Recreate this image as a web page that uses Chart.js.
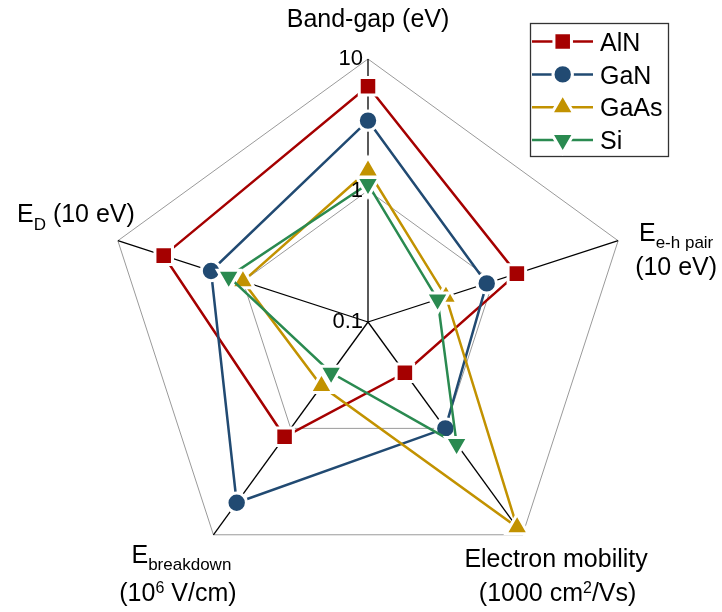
<!DOCTYPE html>
<html>
<head>
<meta charset="utf-8">
<title>Material properties radar</title>
<script src="https://cdn.jsdelivr.net/npm/chart.js@4.4.1/dist/chart.umd.min.js"></script>
<style>
  html, body { margin: 0; padding: 0; background: #ffffff; }
  #wrap { position: relative; width: 722px; height: 612px; }
  canvas { display: block; }
</style>
</head>
<body>
<div id="wrap"><canvas id="chart" width="722" height="612"></canvas></div>
<script>
// ---- data -------------------------------------------------------------
// Axis names, as runs of normal / subscript / superscript text, one array per line
const categories = [
  [[{ t: 'Band-gap (eV)' }]],
  [[{ t: 'E' }, { t: 'e-h pair', sub: true }], [{ t: '(10 eV)' }]],
  [[{ t: 'Electron mobility' }], [{ t: '(1000 cm' }, { t: '2', sup: true }, { t: '/Vs)' }]],
  [[{ t: 'E' }, { t: 'breakdown', sub: true }], [{ t: '(10' }, { t: '6', sup: true }, { t: ' V/cm)' }]],
  [[{ t: 'E' }, { t: 'D', sub: true }, { t: ' (10 eV)' }]]
];

const seriesNames = ['AlN', 'GaN', 'GaAs', 'Si'];

// values per axis: band-gap, e-h pair, mobility, breakdown, E_D
const alnValues  = [6.2, 1.55, 0.30, 1.2, 4.3];
const ganValues  = [3.4, 0.89, 1.0, 5.0, 1.8];
const gaasValues = [1.42, 0.42, 8.5, 0.40, 1.0];
const siValues   = [1.12, 0.36, 1.4, 0.30, 1.3];

const tickValues = [0.1, 1, 10];
const tickLabels = ['0.1', '1', '10'];

// ---- styling -----------------------------------------------------------
const FONT = '"Liberation Sans", Arial, Helvetica, sans-serif';
const MARKER_EDGE = 3;
const seriesStyles = [
  { color: '#a50000', pointStyle: 'rect',     radius: 12.4, rotation: 0 },
  { color: '#214a72', pointStyle: 'circle',   radius: 9.7,  rotation: 0 },
  { color: '#c29200', pointStyle: 'triangle', radius: 13,   rotation: 0 },
  { color: '#2a8a50', pointStyle: 'triangle', radius: 13,   rotation: 180 }
];
const seriesValues = [alnValues, ganValues, gaasValues, siValues];

// label anchor offsets from each outer vertex (first-line baseline, then next lines)
const labelPlacement = [
  { align: 'center', lines: [{ dx: 0, dy: -32 }] },
  { align: 'center', lines: [{ dx: 58, dy: 0 }, { dx: 58, dy: 34 }] },
  { align: 'center', lines: [{ dx: 33.5, dy: 32 }, { dx: 35, dy: 66.5 }] },
  { align: 'center', lines: [{ dx: -32, dy: 28 }, { dx: -35.5, dy: 66.5 }] },
  { align: 'right',  lines: [{ dx: 17, dy: -18.5 }] }
];

const plainLabels = categories.map(lines => lines.map(l => l.map(r => r.t).join('')).join(' '));

function drawRuns(ctx, runs, x, y, align) {
  const parts = runs.map(r => {
    const size = r.sub ? 17 : (r.sup ? 16 : 25);
    const font = size + 'px ' + FONT;
    ctx.font = font;
    return { text: r.t, font, w: ctx.measureText(r.t).width, dy: r.sub ? 7.4 : (r.sup ? -8.5 : 0) };
  });
  const total = parts.reduce((s, p) => s + p.w, 0);
  let sx = align === 'center' ? x - total / 2 : (align === 'right' ? x - total : x);
  ctx.textAlign = 'left';
  ctx.textBaseline = 'alphabetic';
  parts.forEach(p => {
    ctx.font = p.font;
    ctx.fillText(p.text, sx, y + p.dy);
    sx += p.w;
  });
}

function drawMarker(ctx, style, x, y) {
  ctx.save();
  ctx.fillStyle = style.color;
  ctx.strokeStyle = '#ffffff';
  ctx.lineWidth = MARKER_EDGE;
  const opts = { pointStyle: style.pointStyle, radius: style.radius, rotation: style.rotation, borderWidth: MARKER_EDGE };
  if (Chart.helpers && Chart.helpers.drawPoint) {
    Chart.helpers.drawPoint(ctx, opts, x, y);
  } else {
    ctx.beginPath();
    ctx.arc(x, y, style.radius, 0, Math.PI * 2);
    ctx.fill();
    ctx.stroke();
  }
  ctx.restore();
}

// axis titles, tick values and the boxed legend
const decorations = {
  id: 'decorations',
  afterDraw(chart) {
    const ctx = chart.ctx;
    const scale = chart.scales.r;
    ctx.save();
    ctx.fillStyle = '#000000';

    // tick values beside the top axis
    tickValues.forEach((v, i) => {
      const p = scale.getPointPositionForValue(0, Math.log10(v));
      ctx.font = '22px ' + FONT;
      ctx.textAlign = 'right';
      ctx.textBaseline = 'middle';
      ctx.fillText(tickLabels[i], p.x - 5, p.y);
    });

    // axis titles
    categories.forEach((lines, i) => {
      const v = scale.getPointPosition(i, scale.drawingArea);
      const place = labelPlacement[i];
      lines.forEach((runs, j) => {
        const off = place.lines[j];
        drawRuns(ctx, runs, v.x + off.dx, v.y + off.dy, place.align);
      });
    });

    // legend
    const box = { x: 530.5, y: 23.5, w: 138, h: 133 };
    ctx.strokeStyle = '#333333';
    ctx.lineWidth = 1.3;
    ctx.strokeRect(box.x, box.y, box.w, box.h);
    chart.data.datasets.forEach((ds, i) => {
      const style = seriesStyles[i];
      const y = 41.6 + i * 32.8;
      ctx.strokeStyle = style.color;
      ctx.lineWidth = 2.5;
      ctx.beginPath();
      ctx.moveTo(532, y);
      ctx.lineTo(593, y);
      ctx.stroke();
      drawMarker(ctx, style, 562.7, y);
      ctx.fillStyle = '#000000';
      ctx.font = '25px ' + FONT;
      ctx.textAlign = 'left';
      ctx.textBaseline = 'alphabetic';
      ctx.fillText(ds.label, 600, y + 9.2);
    });
    ctx.restore();
  }
};

const datasets = seriesNames.map((name, i) => {
  const s = seriesStyles[i];
  return {
    label: name,
    data: seriesValues[i].map(v => Math.log10(v)),
    borderColor: s.color,
    backgroundColor: s.color,
    borderWidth: 2.5,
    fill: false,
    tension: 0,
    pointStyle: s.pointStyle,
    pointRotation: s.rotation,
    pointRadius: s.radius,
    pointHoverRadius: s.radius,
    pointBackgroundColor: s.color,
    pointBorderColor: '#ffffff',
    pointBorderWidth: MARKER_EDGE,
    order: seriesNames.length - 1 - i
  };
});

new Chart(document.getElementById('chart'), {
  type: 'radar',
  data: { labels: plainLabels, datasets },
  options: {
    responsive: false,
    animation: false,
    layout: { padding: { left: 105, right: 91, top: 59, bottom: 27 } },
    plugins: { legend: { display: false }, tooltip: { enabled: false } },
    scales: {
      r: {
        min: -1,
        max: 1,
        ticks: { stepSize: 1, display: false },
        pointLabels: { display: false },
        grid: {
          color: (c) => (c.tick && c.tick.value <= -1) ? 'rgba(0,0,0,0)' : '#9a9a9a',
          lineWidth: 1
        },
        angleLines: { color: '#000000', lineWidth: 1.3 }
      }
    }
  },
  plugins: [decorations]
});
</script>
</body>
</html>
